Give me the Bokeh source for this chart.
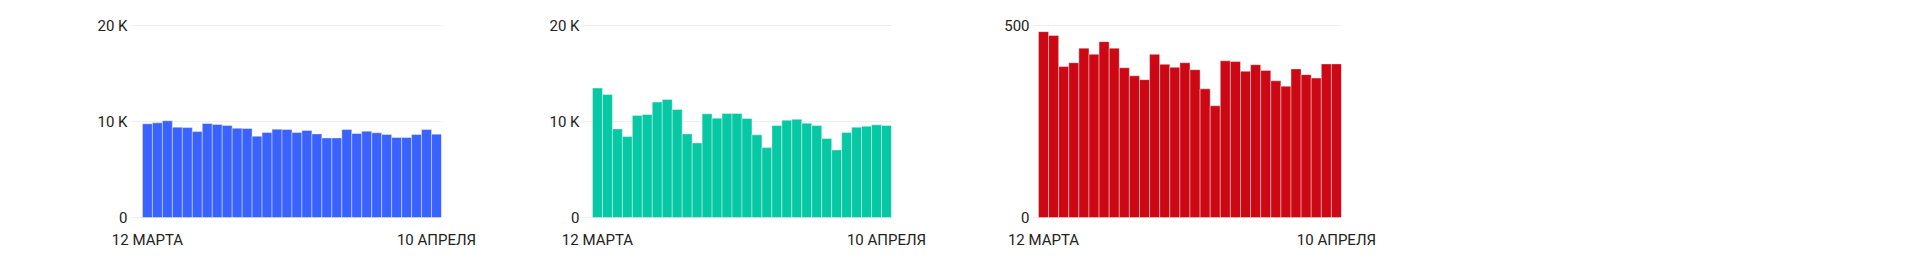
from bokeh.plotting import figure
from bokeh.layouts import row
from bokeh.models import FixedTicker, Range1d
from bokeh.embed import file_html
from bokeh.resources import INLINE

days = list(range(30))  # 12 March .. 10 April
x_tick_labels = {0: "12 МАРТА", 29: "10 АПРЕЛЯ"}

blue_values = [9760, 9860, 10070, 9410, 9370, 8950, 9790, 9690, 9580, 9300,
               9270, 8470, 8850, 9200, 9160, 8850, 9060, 8710, 8290, 8290,
               9160, 8750, 8990, 8820, 8640, 8330, 8330, 8640, 9160, 8680]
green_values = [13480, 12820, 9230, 8430, 10630, 10730, 12020, 12300, 11250, 8710,
                7770, 10800, 10350, 10840, 10840, 10310, 8610, 7280, 9580, 10140,
                10240, 9830, 9580, 8220, 7040, 8850, 9410, 9510, 9650, 9580]
red_values = [484, 474, 393, 403, 441, 425, 458, 441, 390, 369,
              359, 425, 399, 391, 403, 385, 335, 291, 408, 406,
              381, 398, 383, 356, 342, 387, 372, 363, 400, 400]

k_ticks = [0, 10000, 20000]
k_labels = {0: "0", 10000: "10 K", 20000: "20 K"}
small_ticks = [0, 500]
small_labels = {0: "0", 500: "500"}

FONT = "Roboto"
TXT = "#222222"


def make_chart(values, color, ticks, labels, ymax, x_start, frame_w, left_border):
    fh = 199
    px_per = 192.0 / ymax
    y0 = -2 / px_per
    y1 = ymax + 5 / px_per
    p = figure(frame_width=frame_w, frame_height=fh,
               x_range=Range1d(x_start, 29.5), y_range=Range1d(y0, y1),
               output_backend="svg", toolbar_location=None,
               min_border_left=left_border, min_border_right=49,
               min_border_top=20, min_border_bottom=42)
    p.vbar(x=days, top=values, bottom=0, width=1.0, fill_color=color,
           line_color="white", line_alpha=0.4, line_width=1)
    p.outline_line_color = None
    p.background_fill_color = "white"
    p.border_fill_color = "white"
    p.xgrid.grid_line_color = None
    p.ygrid.grid_line_color = "#eeeeee"
    p.ygrid.grid_line_width = 1
    p.ygrid.ticker = FixedTicker(ticks=ticks)

    p.yaxis.ticker = FixedTicker(ticks=ticks)
    p.yaxis.major_label_overrides = labels
    p.yaxis.axis_line_color = None
    p.yaxis.major_tick_line_color = None
    p.yaxis.minor_tick_line_color = None
    p.yaxis.major_tick_out = 0
    p.yaxis.major_tick_in = 0
    p.yaxis.major_label_standoff = 3
    p.yaxis.major_label_text_font = FONT
    p.yaxis.major_label_text_font_size = "15px"
    p.yaxis.major_label_text_color = TXT

    p.xaxis.ticker = FixedTicker(ticks=list(x_tick_labels.keys()))
    p.xaxis.major_label_overrides = x_tick_labels
    p.xaxis.axis_line_color = None
    p.xaxis.major_tick_line_color = None
    p.xaxis.minor_tick_line_color = None
    p.xaxis.major_tick_out = 0
    p.xaxis.major_tick_in = 0
    p.xaxis.major_label_standoff = 11
    p.xaxis.major_label_text_font = FONT
    p.xaxis.major_label_text_font_size = "15px"
    p.xaxis.major_label_text_color = TXT
    return p


p1 = make_chart(blue_values, "#3a62ff", k_ticks, k_labels, 20000, -1.70, 311, 130)
p2 = make_chart(green_values, "#06c8a4", k_ticks, k_labels, 20000, -1.50, 309, 92)
p3 = make_chart(red_values, "#cc0814", small_ticks, small_labels, 500, -1.09, 309, 92)

layout = row(p1, p2, p3)
open("out.html", "w").write(file_html(layout, INLINE))
